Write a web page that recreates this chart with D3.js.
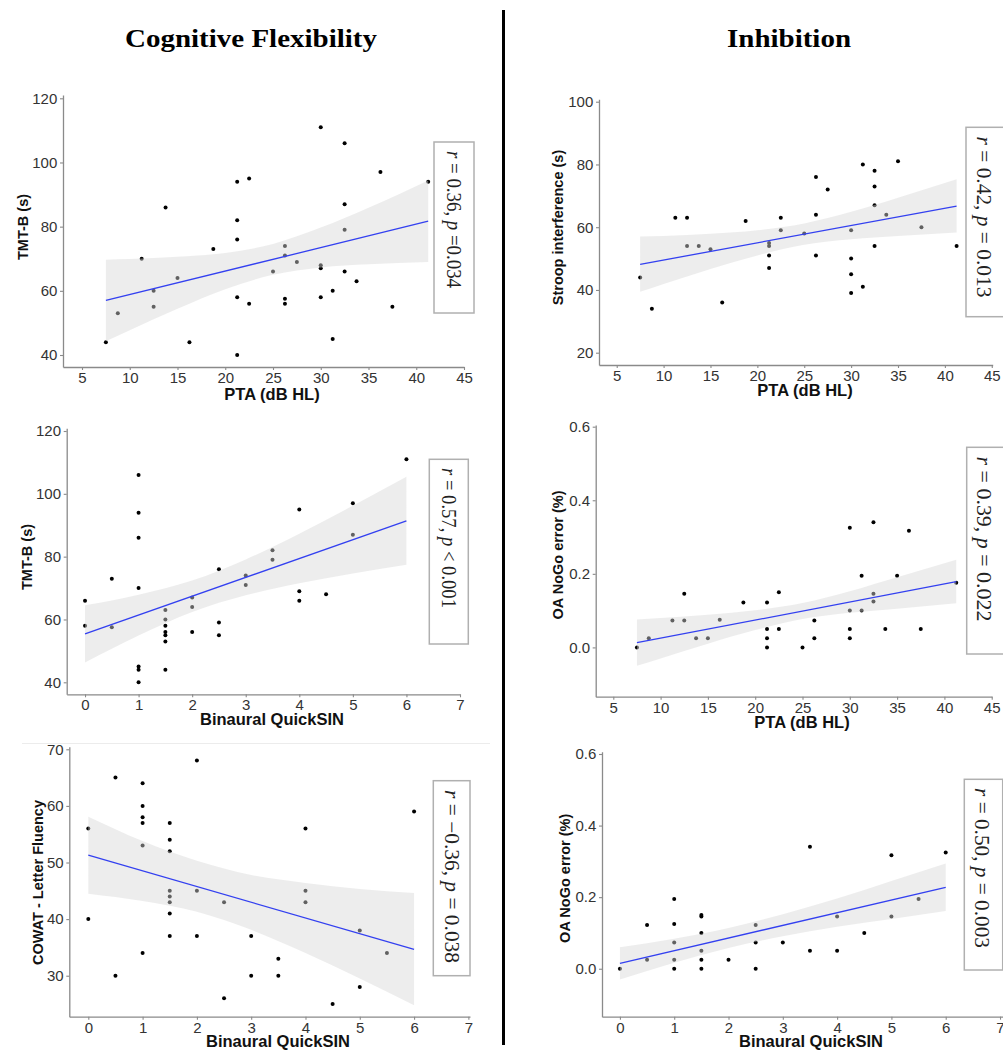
<!DOCTYPE html>
<html>
<head>
<meta charset="utf-8">
<script src="https://cdn.jsdelivr.net/npm/d3@7"></script>
<style>
  body { margin: 0; background: #fff; }
  svg { display: block; }
</style>
</head>
<body>
<div id="fig"></div>
<script>
"use strict"

// ---- values ----

// tick values
var ptaTicks = [5, 10, 15, 20, 25, 30, 35, 40, 45]
var sinTicks = [0, 1, 2, 3, 4, 5, 6, 7]
var tmtTicks = [40, 60, 80, 100, 120]
var cowatTicks = [30, 40, 50, 60, 70]
var stroopTicks = [20, 40, 60, 80, 100]
var nogoTicks = [0, 0.2, 0.4, 0.6]

// TMT-B vs PTA
var tmtPtaX = [7.5, 8.75, 11.25, 12.5, 12.5, 13.75, 15, 16.25, 18.75, 21.25, 21.25, 21.25, 21.25, 21.25, 22.5, 22.5, 25, 26.25, 26.25, 26.25, 26.25, 27.5, 30, 30, 30, 30, 31.25, 31.25, 32.5, 32.5, 32.5, 32.5, 33.75, 36.25, 37.5, 41.25]
var tmtPtaY = [44, 53, 70, 60, 55, 86, 64, 44, 73, 94, 82, 76, 58, 40, 95, 56, 66, 74, 71, 57.5, 56, 69, 111, 68, 67, 58, 60, 45, 106, 87, 79, 66, 63, 97, 55, 94]
var tmtPtaFit = [57, 81.7]
var tmtPtaBandX = [7.5, 10, 15, 20, 25, 30, 35, 41.25]
var tmtPtaBandLo = [44.3, 47.7, 54.4, 60.5, 65.0, 67.3, 68.3, 69.0]
var tmtPtaBandHi = [69.7, 69.9, 70.6, 71.8, 74.6, 79.7, 85.9, 94.4]

// TMT-B vs QuickSIN
var tmtSinX = [0, 0, 0.5, 0.5, 1, 1, 1, 1, 1, 1, 1, 1.5, 1.5, 1.5, 1.5, 1.5, 1.5, 1.5, 2, 2, 2, 2.5, 2.5, 2.5, 3, 3, 3.5, 3.5, 4, 4, 4, 4.5, 5, 5, 6]
var tmtSinY = [66, 58, 73, 57.5, 106, 94, 86, 70, 45, 44, 40, 63, 60, 58, 56, 55, 53, 44, 67, 64, 56, 76, 59, 55, 74, 71, 82, 79, 95, 69, 66, 68, 97, 87, 111]
var tmtSinFit = [55.4, 91.4]
var tmtSinBandX = [0, 1, 2, 3, 4, 5, 6]
var tmtSinBandLo = [46.3, 54.9, 62.4, 67.7, 71.5, 74.6, 77.4]
var tmtSinBandHi = [64.5, 67.9, 72.4, 79.1, 87.3, 96.2, 105.4]

// COWAT vs QuickSIN
var cowatSinX = [0, 0, 0.5, 0.5, 1, 1, 1, 1, 1, 1, 1.5, 1.5, 1.5, 1.5, 1.5, 1.5, 1.5, 1.5, 2, 2, 2, 2.5, 2.5, 3, 3, 3.5, 3.5, 4, 4, 4, 4.5, 5, 5, 5.5, 6]
var cowatSinY = [56, 40, 65, 30, 64, 60, 58, 57, 53, 34, 57, 54, 52, 45, 44, 43, 41, 37, 68, 45, 37, 43, 26, 37, 30, 33, 30, 56, 45, 43, 25, 38, 28, 34, 59]
var cowatSinFit = [51.3, 34.65]
var cowatSinBandX = [0, 1, 2, 3, 4, 5, 6]
var cowatSinBandLo = [44.5, 43.2, 41.3, 38.1, 34.0, 29.5, 24.8]
var cowatSinBandHi = [58.1, 53.8, 50.3, 47.8, 46.4, 45.3, 44.6]

// Stroop vs PTA
var stroopPtaX = [7.5, 8.75, 11.25, 12.5, 12.5, 13.75, 15, 16.25, 18.75, 21.25, 21.25, 21.25, 21.25, 22.5, 22.5, 25, 26.25, 26.25, 26.25, 27.5, 30, 30, 30, 30, 31.25, 31.25, 32.5, 32.5, 32.5, 32.5, 33.75, 35, 37.5, 41.25]
var stroopPtaY = [44, 34, 63, 63, 54, 54, 53, 36, 62, 55, 54, 51, 47, 63, 59, 58, 76, 64, 51, 72, 59, 50, 45, 39, 80, 41, 78, 73, 67, 54, 64, 81, 60, 54]
var stroopPtaFit = [48.15, 66.75]
var stroopPtaBandX = [7.5, 10, 15, 20, 25, 30, 35, 41.25]
var stroopPtaBandLo = [39.4, 41.9, 46.7, 51.0, 54.4, 56.2, 57.2, 58.3]
var stroopPtaBandHi = [57.0, 57.2, 57.9, 59.0, 61.2, 64.9, 69.4, 75.3]

// NoGo error vs PTA
var nogoPtaX = [7.5, 8.75, 11.25, 12.5, 12.5, 13.75, 15, 16.25, 18.75, 21.25, 21.25, 21.25, 21.25, 22.5, 22.5, 25, 26.25, 26.25, 30, 30, 30, 30, 31.25, 31.25, 32.5, 32.5, 32.5, 33.75, 35, 36.25, 37.5, 41.25]
var nogoPtaY = [0, 0.025, 0.073, 0.146, 0.073, 0.025, 0.025, 0.075, 0.122, 0.122, 0.05, 0.025, 0, 0.15, 0.05, 0, 0.073, 0.025, 0.325, 0.1, 0.05, 0.025, 0.195, 0.1, 0.34, 0.146, 0.125, 0.05, 0.195, 0.317, 0.05, 0.176]
var nogoPtaFit = [0.0127, 0.1786]
var nogoPtaBandX = [7.5, 10, 15, 20, 25, 30, 35, 41.25]
var nogoPtaBandLo = [-0.050, -0.030, 0.010, 0.047, 0.077, 0.094, 0.105, 0.120]
var nogoPtaBandHi = [0.076, 0.080, 0.089, 0.101, 0.121, 0.153, 0.191, 0.238]

// NoGo error vs QuickSIN
var nogoSinX = [0, 0.5, 0.5, 1, 1, 1, 1, 1, 1.5, 1.5, 1.5, 1.5, 1.5, 1.5, 2, 2.5, 2.5, 2.5, 3, 3.5, 3.5, 4, 4, 4.5, 5, 5, 5.5, 6]
var nogoSinY = [0, 0.122, 0.025, 0.195, 0.125, 0.073, 0.025, 0, 0.15, 0.146, 0.1, 0.05, 0.025, 0, 0.025, 0.122, 0.073, 0, 0.073, 0.341, 0.05, 0.146, 0.05, 0.1, 0.317, 0.146, 0.195, 0.325]
var nogoSinFit = [0.0149, 0.2273]
var nogoSinBandX = [0, 1, 2, 3, 4, 5, 6]
var nogoSinBandLo = [-0.030, 0.017, 0.058, 0.091, 0.117, 0.139, 0.161]
var nogoSinBandHi = [0.060, 0.084, 0.114, 0.152, 0.196, 0.245, 0.294]

// ---- layout ----
var W = 1003, H = 1050

var panels = [
    { x: tmtPtaX, y: tmtPtaY, fit: tmtPtaFit, bx: tmtPtaBandX, lo: tmtPtaBandLo, hi: tmtPtaBandHi,
      xTicks: ptaTicks, yTicks: tmtTicks, yFmt: d3.format("d"),
      xDomain: [3.01, 45], yDomain: [36.26, 121.03], frame: [63, 464, 95, 367],
      xLabel: "PTA (dB HL)", xLabelPos: [272, 400], yLabel: "TMT-B (s)", yLabelPos: [28, 227],
      note: ["r", " = 0.36, ", "p", " =0.034"], box: [434, 142, 474, 313], notePos: [454, 219.5], noteLen: 137 },
    { x: tmtSinX, y: tmtSinY, fit: tmtSinFit, bx: tmtSinBandX, lo: tmtSinBandLo, hi: tmtSinBandHi,
      xTicks: sinTicks, yTicks: tmtTicks, yFmt: d3.format("d"),
      xDomain: [-0.342, 7.0], yDomain: [36.18, 120.86], frame: [66.7, 460, 428.3, 694.3],
      xLabel: "Binaural QuickSIN", xLabelPos: [272, 725], yLabel: "TMT-B (s)", yLabelPos: [32, 557],
      note: ["r", " = 0.57, ", "p", " < 0.001"], box: [429.3, 459.3, 468.3, 644], notePos: [449, 538], noteLen: 140 },
    { x: cowatSinX, y: cowatSinY, fit: cowatSinFit, bx: cowatSinBandX, lo: cowatSinBandLo, hi: cowatSinBandHi,
      xTicks: sinTicks, yTicks: cowatTicks, yFmt: d3.format("d"),
      xDomain: [-0.35, 7.03], yDomain: [22.76, 70.46], frame: [69.3, 470, 746.7, 1016.7],
      xLabel: "Binaural QuickSIN", xLabelPos: [278, 1046.5], yLabel: "COWAT - Letter Fluency", yLabelPos: [43, 882.5],
      note: ["r", " = \u22120.36, ", "p", " = 0.038"], box: [433.3, 780.7, 470, 975.7], notePos: [452, 876.5], noteLen: 173 },
    { x: stroopPtaX, y: stroopPtaY, fit: stroopPtaFit, bx: stroopPtaBandX, lo: stroopPtaBandLo, hi: stroopPtaBandHi,
      xTicks: ptaTicks, yTicks: stroopTicks, yFmt: d3.format("d"),
      xDomain: [3.11, 45.1], yDomain: [16.08, 100.77], frame: [599, 992.7, 99.3, 365],
      xLabel: "PTA (dB HL)", xLabelPos: [805, 396], yLabel: "Stroop interference (s)", yLabelPos: [563, 227.5],
      note: ["r", " = 0.42, ", "p", " = 0.013"], box: [966, 127.3, 1010, 316.7], notePos: [984, 217], noteLen: 161 },
    { x: nogoPtaX, y: nogoPtaY, fit: nogoPtaFit, bx: nogoPtaBandX, lo: nogoPtaBandLo, hi: nogoPtaBandHi,
      xTicks: ptaTicks, yTicks: nogoTicks, yFmt: d3.format(".1f"),
      xDomain: [3.14, 45.03], yDomain: [-0.134, 0.6046], frame: [595.7, 992, 425, 696.7],
      xLabel: "PTA (dB HL)", xLabelPos: [802, 728.3], yLabel: "OA NoGo error (%)", yLabelPos: [563, 555],
      note: ["r", " = 0.39, ", "p", " = 0.022"], box: [966.7, 447.3, 1010, 654], notePos: [984, 539], noteLen: 165 },
    { x: nogoSinX, y: nogoSinY, fit: nogoSinFit, bx: nogoSinBandX, lo: nogoSinBandLo, hi: nogoSinBandHi,
      xTicks: sinTicks, yTicks: nogoTicks, yFmt: d3.format(".1f"),
      xDomain: [-0.33, 7.055], yDomain: [-0.134, 0.6064], frame: [602, 1003, 751.7, 1016.7],
      xLabel: "Binaural QuickSIN", xLabelPos: [811, 1047.3], yLabel: "OA NoGo error (%)", yLabelPos: [570, 878.3],
      note: ["r", " = 0.50, ", "p", " = 0.003"], box: [964.3, 779.3, 1002.7, 970], notePos: [982, 868], noteLen: 160 }
]

var svg = d3.select("#fig").append("svg")
    .attr("width", W)
    .attr("height", H)
    .style("background", "#fff")

// column titles
svg.append("text")
    .attr("x", 251).attr("y", 46.7)
    .attr("text-anchor", "middle")
    .attr("font-family", "'Liberation Serif', 'DejaVu Serif', serif")
    .attr("font-weight", "bold")
    .attr("font-size", 25)
    .attr("textLength", 252)
    .attr("lengthAdjust", "spacingAndGlyphs")
    .text("Cognitive Flexibility")

svg.append("text")
    .attr("x", 789).attr("y", 46.7)
    .attr("text-anchor", "middle")
    .attr("font-family", "'Liberation Serif', 'DejaVu Serif', serif")
    .attr("font-weight", "bold")
    .attr("font-size", 25)
    .attr("textLength", 124)
    .attr("lengthAdjust", "spacingAndGlyphs")
    .text("Inhibition")

// divider between the two columns
svg.append("line")
    .attr("x1", 503.5).attr("x2", 503.5)
    .attr("y1", 10).attr("y2", 1045)
    .attr("stroke", "#000")
    .attr("stroke-width", 3)

// faint crop edge above the third left panel
svg.append("line")
    .attr("x1", 22).attr("x2", 490)
    .attr("y1", 743.5).attr("y2", 743.5)
    .attr("stroke", "#ececec")
    .attr("stroke-width", 1)


function draw_panel(p) {
    var f = p.frame  // left, right, top, bottom
    var x = d3.scaleLinear().domain(p.xDomain).range([f[0], f[1]])
    var y = d3.scaleLinear().domain(p.yDomain).range([f[3], f[2]])

    var g = svg.append("g")

    // points first, the ribbon greys the ones it covers
    g.selectAll("circle")
        .data(d3.range(p.x.length))
        .enter()
        .append("circle")
        .attr("cx", function(i) { return x(p.x[i]) })
        .attr("cy", function(i) { return y(p.y[i]) })
        .attr("r", 2)
        .attr("fill", "#000")

    var band = d3.area()
        .x(function(i) { return x(p.bx[i]) })
        .y0(function(i) { return y(p.lo[i]) })
        .y1(function(i) { return y(p.hi[i]) })
        .curve(d3.curveMonotoneX)

    g.append("path")
        .attr("d", band(d3.range(p.bx.length)))
        .attr("fill", "#d6d6d6")
        .attr("fill-opacity", 0.45)

    var xmin = d3.min(p.x), xmax = d3.max(p.x)
    g.append("line")
        .attr("x1", x(xmin)).attr("y1", y(p.fit[0]))
        .attr("x2", x(xmax)).attr("y2", y(p.fit[1]))
        .attr("stroke", "#3340f0")
        .attr("stroke-width", 1.3)

    // axes
    var xaxis = d3.axisBottom(x).tickValues(p.xTicks).tickSize(3).tickSizeOuter(0).tickPadding(2.4)
    var yaxis = d3.axisLeft(y).tickValues(p.yTicks).tickSize(3).tickSizeOuter(0).tickPadding(2.7).tickFormat(p.yFmt)

    var gx = g.append("g")
        .attr("transform", "translate(0," + f[3] + ")")
        .call(xaxis)
    var gy = g.append("g")
        .attr("transform", "translate(" + f[0] + ",0)")
        .call(yaxis)

    ;[gx, gy].forEach(function(a) {
        a.attr("color", "#8a8a8a")
            .attr("font-family", "'Liberation Sans', Arial, sans-serif")
            .attr("font-size", 15)
        a.select(".domain").attr("stroke-width", 1.3)
        a.selectAll(".tick line").attr("stroke-width", 1.1)
        a.selectAll(".tick text").attr("fill", "#333")
    })

    // axis titles
    g.append("text")
        .attr("x", p.xLabelPos[0]).attr("y", p.xLabelPos[1])
        .attr("text-anchor", "middle")
        .attr("font-family", "'Liberation Sans', Arial, sans-serif")
        .attr("font-weight", "bold")
        .attr("font-size", 16.5)
        .attr("fill", "#111")
        .text(p.xLabel)

    g.append("text")
        .attr("transform", "translate(" + p.yLabelPos[0] + "," + p.yLabelPos[1] + ") rotate(-90)")
        .attr("text-anchor", "middle")
        .attr("font-family", "'Liberation Sans', Arial, sans-serif")
        .attr("font-weight", "bold")
        .attr("font-size", 14.5)
        .attr("fill", "#111")
        .text(p.yLabel)

    // correlation box
    g.append("rect")
        .attr("x", p.box[0]).attr("y", p.box[1])
        .attr("width", p.box[2] - p.box[0])
        .attr("height", p.box[3] - p.box[1])
        .attr("fill", "#fff")
        .attr("stroke", "#b0b0b0")
        .attr("stroke-width", 1.5)

    var t = g.append("text")
        .attr("transform", "translate(" + p.notePos[0] + "," + p.notePos[1] + ") rotate(90)")
        .attr("text-anchor", "middle")
        .attr("dominant-baseline", "central")
        .attr("font-family", "'Liberation Serif', 'DejaVu Serif', serif")
        .attr("font-size", 21)
        .attr("fill", "#222")
        .attr("textLength", p.noteLen)
        .attr("lengthAdjust", "spacingAndGlyphs")

    p.note.forEach(function(s, k) {
        t.append("tspan")
            .attr("font-style", k % 2 === 0 ? "italic" : "normal")
            .text(s)
    })
}

panels.forEach(draw_panel)
</script>
</body>
</html>
